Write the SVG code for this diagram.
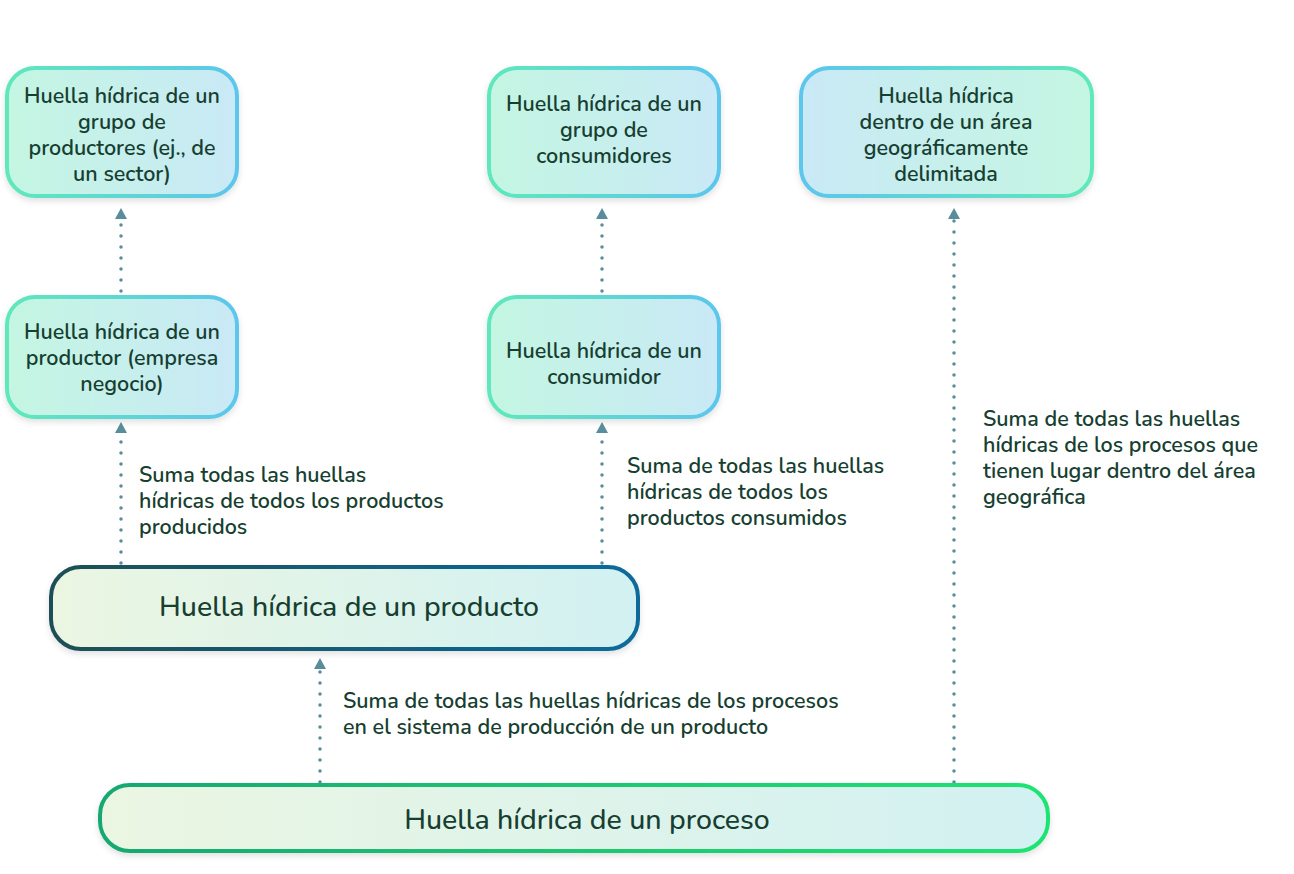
<svg xmlns="http://www.w3.org/2000/svg" width="1294" height="874" viewBox="0 0 1294 874">
<defs>
<linearGradient id="gs1" x1="0" y1="0" x2="1" y2="0"><stop offset="0" stop-color="#5ee8bb"/><stop offset="1" stop-color="#5cc6ec"/></linearGradient>
<linearGradient id="gf1" x1="0" y1="0" x2="1" y2="0"><stop offset="0" stop-color="#c4f6e2"/><stop offset="1" stop-color="#c9e9f6"/></linearGradient>
<linearGradient id="gs2" x1="0" y1="0" x2="1" y2="0"><stop offset="0" stop-color="#5cc6ec"/><stop offset="1" stop-color="#5ee8bb"/></linearGradient>
<linearGradient id="gf2" x1="0" y1="0" x2="1" y2="0"><stop offset="0" stop-color="#c9e9f6"/><stop offset="1" stop-color="#c4f6e2"/></linearGradient>
<linearGradient id="gsp" x1="0" y1="0" x2="1" y2="0"><stop offset="0" stop-color="#1e4f55"/><stop offset="1" stop-color="#0a6b9b"/></linearGradient>
<linearGradient id="gsq" x1="0" y1="0" x2="1" y2="0"><stop offset="0" stop-color="#18a872"/><stop offset="1" stop-color="#1ee472"/></linearGradient>
<linearGradient id="gfl" x1="0" y1="0" x2="1" y2="0"><stop offset="0" stop-color="#ebf6e2"/><stop offset="1" stop-color="#d2f1f2"/></linearGradient>
<filter id="sh" x="-10%" y="-20%" width="120%" height="150%"><feDropShadow dx="0" dy="3" stdDeviation="3" flood-color="#000" flood-opacity="0.12"/></filter>
</defs>
<style>
.t{font-family:"Nunito","Open Sans","Noto Sans",sans-serif;font-weight:600;fill:#173f31;font-size:21.5px}
.c{text-anchor:middle}
.big{font-size:28.5px;font-weight:500}
.con{fill:none;stroke:#5a8d9c;stroke-width:3.5;stroke-linecap:round;stroke-dasharray:0 11}
.ah{fill:#5a8d9c}
.b{stroke-width:4}
</style>
<rect width="1294" height="874" fill="#fff"/>
<g id="connectors">
<path class="con" d="M121 563 V434"/><path class="ah" d="M115 433 L121 422 L127 433 Z"/>
<path class="con" d="M121 291 V220"/><path class="ah" d="M115 219 L121 208 L127 219 Z"/>
<path class="con" d="M602 563 V434"/><path class="ah" d="M596 433 L602 422 L608 433 Z"/>
<path class="con" d="M602 291 V220"/><path class="ah" d="M596 219 L602 208 L608 219 Z"/>
<path class="con" d="M954 782 V220"/><path class="ah" d="M948 219 L954 208 L960 219 Z"/>
<path class="con" d="M320 782 V670"/><path class="ah" d="M314 669 L320 658 L326 669 Z"/>
</g>
<g id="n1"><rect class="b" x="7" y="68" width="230" height="128" rx="28" fill="url(#gf1)" stroke="url(#gs1)" filter="url(#sh)"/>
<text class="t c"><tspan x="122" y="103">Huella hídrica de un</tspan><tspan x="122" y="129">grupo de</tspan><tspan x="122" y="155">productores (ej., de</tspan><tspan x="122" y="181">un sector)</tspan></text></g>
<g id="n2"><rect class="b" x="7" y="297" width="230" height="120" rx="28" fill="url(#gf1)" stroke="url(#gs1)" filter="url(#sh)"/>
<text class="t c"><tspan x="122" y="339">Huella hídrica de un</tspan><tspan x="122" y="365">productor (empresa</tspan><tspan x="122" y="391">negocio)</tspan></text></g>
<g id="n3"><rect class="b" x="489" y="68" width="230" height="128" rx="28" fill="url(#gf1)" stroke="url(#gs1)" filter="url(#sh)"/>
<text class="t c"><tspan x="604" y="111">Huella hídrica de un</tspan><tspan x="604" y="137">grupo de</tspan><tspan x="604" y="163">consumidores</tspan></text></g>
<g id="n4"><rect class="b" x="489" y="297" width="230" height="120" rx="28" fill="url(#gf1)" stroke="url(#gs1)" filter="url(#sh)"/>
<text class="t c"><tspan x="604" y="358">Huella hídrica de un</tspan><tspan x="604" y="384">consumidor</tspan></text></g>
<g id="n5"><rect class="b" x="801" y="68" width="291" height="128" rx="28" fill="url(#gf2)" stroke="url(#gs2)" filter="url(#sh)"/>
<text class="t c"><tspan x="946" y="103">Huella hídrica</tspan><tspan x="946" y="129">dentro de un área</tspan><tspan x="946" y="155">geográficamente</tspan><tspan x="946" y="181">delimitada</tspan></text></g>
<g id="n6"><rect class="b" x="51" y="567" width="587" height="82" rx="30" fill="url(#gfl)" stroke="url(#gsp)" filter="url(#sh)"/>
<text class="t c big" x="349" y="616">Huella hídrica de un producto</text></g>
<g id="n7"><rect class="b" x="100" y="785" width="948" height="66" rx="30" fill="url(#gfl)" stroke="url(#gsq)" filter="url(#sh)"/>
<text class="t c big" x="587" y="829">Huella hídrica de un proceso</text></g>
<g id="labels">
<text class="t"><tspan x="139" y="482">Suma todas las huellas</tspan><tspan x="139" y="508">hídricas de todos los productos</tspan><tspan x="139" y="534">producidos</tspan></text>
<text class="t"><tspan x="627" y="473">Suma de todas las huellas</tspan><tspan x="627" y="499">hídricas de todos los</tspan><tspan x="627" y="525">productos consumidos</tspan></text>
<text class="t"><tspan x="983" y="426">Suma de todas las huellas</tspan><tspan x="983" y="452">hídricas de los procesos que</tspan><tspan x="983" y="478">tienen lugar dentro del área</tspan><tspan x="983" y="504">geográfica</tspan></text>
<text class="t"><tspan x="343" y="708">Suma de todas las huellas hídricas de los procesos</tspan><tspan x="343" y="734">en el sistema de producción de un producto</tspan></text>
</g>
</svg>
